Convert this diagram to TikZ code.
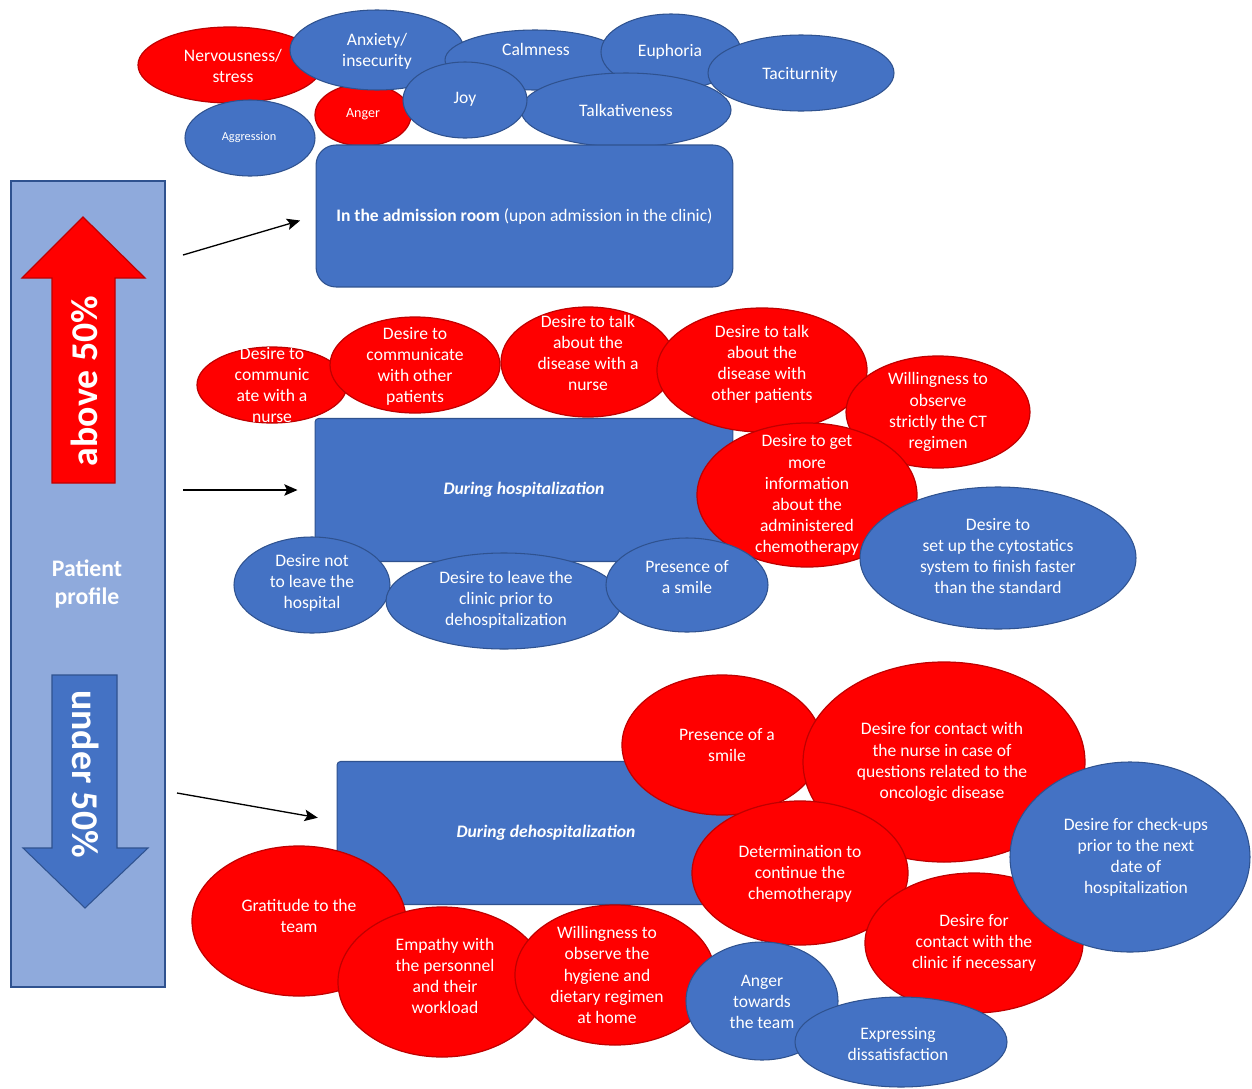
\documentclass[tikz,border=0pt]{standalone}
\usepackage{fontspec}
\setmainfont{Carlito}
\usetikzlibrary{arrows.meta,calc}
\definecolor{bblue}{HTML}{4472C4}
\definecolor{bedge}{HTML}{2F528F}
\definecolor{panel}{HTML}{8FAADC}
\definecolor{redge}{HTML}{C00000}

\begin{document}
\begin{tikzpicture}[x=0.02cm,y=-0.02cm,>={Stealth[length=7.5pt,width=6.5pt,inset=1.5pt]},
 font=\fontsize{10}{12}\selectfont,
 rb/.style={fill=red,draw=redge,line width=0.7pt},
 bb/.style={fill=bblue,draw=bedge,line width=0.6pt},
 txt/.style={text=white,align=center,inner sep=0pt},
 stage/.style={bb,minimum width=8.36cm,minimum height=2.86cm,text=white,align=center},
 big/.style={txt,font=\fontsize{21.5}{24}\selectfont\bfseries},
 arr/.style={->,line width=0.75pt}]
\fill[white] (0,0) rectangle (1252,1089);
\useasboundingbox (0,0) rectangle (1252,1089);

% profile column with the two arrows
\draw[fill=panel,draw=bedge,line width=0.6pt] (11,181) rectangle (165,987);
\draw[rb] (52,483) -- (52,278) -- (22,278) -- (83,217) -- (145,278) -- (115,278) -- (115,483) -- cycle;
\node[big,rotate=90] (up) at (84,381) {above 50\%};
\node[txt,font=\fontsize{13.5}{15.5}\selectfont\bfseries] (prof) at (87,584) {Patient\\profile};
\draw[bb] (52,675) -- (117,675) -- (117,848) -- (148,848) -- (85,908) -- (23,848) -- (52,848) -- cycle;
\node[big,rotate=-90] (down) at (86,774) {under 50\%};

% admission
\draw[rb] (230,65) ellipse (92 and 38);
\node[txt] (nerv) at (233,66) {Nervousness/\\stress};
\draw[rb] (363,115) ellipse (48 and 31);
\node[txt,font=\fontsize{8}{9}\selectfont] (anger) at (363,114) {Anger};
\draw[bb] (377,50) ellipse (87 and 40);
\node[txt] (anx) at (377,51) {Anxiety/\\insecurity};
\draw[bb] (250,138) ellipse (65 and 38);
\node[txt,font=\fontsize{7}{8}\selectfont] (aggr) at (249,137) {Aggression};
\draw[bb] (535,60) ellipse (90 and 30);
\node[txt] (calm) at (536,49) {Calmness};
\draw[bb] (671,52) ellipse (70 and 38);
\node[txt] (euph) at (670,52) {Euphoria};
\draw[bb] (801,73) ellipse (93 and 38);
\node[txt] (tacit) at (800,75) {Taciturnity};
\draw[bb] (626,110) ellipse (105 and 37);
\node[txt] (talk) at (626,110) {Talkativeness};
\draw[bb] (465,100) ellipse (62 and 38);
\node[txt] (joy) at (465,99) {Joy};
\node[stage,rounded corners=0.4cm,minimum width=8.34cm,minimum height=2.84cm] (adm) at (524.5,216)
 {\textbf{In the admission room} (upon admission in the clinic)};

% hospitalization
\node[stage,rounded corners=2pt] (hosp) at (524,490) {\textbf{\textit{During hospitalization}}};
\draw[rb] (272,385) ellipse (75 and 38);
\node[txt] (comnurse) at (272,385) {Desire to\\communic\\ate with a\\nurse};
\draw[rb] (415,365) ellipse (85 and 48);
\node[txt] (compat) at (415,366) {Desire to\\communicate\\with other\\patients};
\draw[rb] (588,362) ellipse (87 and 55);
\node[txt] (talknurse) at (588,353) {Desire to talk\\about the\\disease with a\\nurse};
\draw[rb] (762,370) ellipse (105 and 62);
\node[txt] (talkpat) at (762,364) {Desire to talk\\about the\\disease with\\other patients};
\draw[rb] (938,412) ellipse (92 and 56);
\node[txt] (regimen) at (938,412) {Willingness to\\observe\\strictly the CT\\regimen};
\draw[rb] (807,495) ellipse (110 and 72);
\node[txt] (moreinfo) at (807,495) {Desire to get\\more\\information\\about the\\administered\\chemotherapy};
\draw[bb] (312,585) ellipse (78 and 48);
\node[txt] (stay) at (312,583) {Desire not\\to leave the\\hospital};
\draw[bb] (504,601) ellipse (118 and 48);
\node[txt] (leave) at (506,600) {Desire to leave the\\clinic prior to\\dehospitalization};
\draw[bb] (687,585) ellipse (81 and 47);
\node[txt] (smile) at (687,577) {Presence of\\a smile};
\draw[bb] (998,558) ellipse (138 and 71);
\node[txt] (faster) at (998,556) {Desire to\\set up the cytostatics\\system to finish faster\\than the standard};

% dehospitalization
\node[stage,rounded corners=2pt] (dehosp) at (546,833) {\textbf{\textit{During dehospitalization}}};
\draw[rb] (722,745) ellipse (100 and 70);
\node[txt] (smile2) at (727,745) {Presence of a\\smile};
\draw[rb] (944,762) ellipse (141 and 100);
\node[txt] (askq) at (942,762) {Desire for contact with\\the nurse in case of\\questions related to the\\oncologic disease};
\draw[rb] (800,873) ellipse (108 and 72);
\node[txt] (continue) at (800,874) {Determination to\\continue the\\chemotherapy};
\draw[rb] (974,943) ellipse (109 and 70);
\node[txt] (clinic) at (974,943) {Desire for\\contact with the\\clinic if necessary};
\draw[bb] (1130,857) ellipse (120 and 95);
\node[txt] (checkup) at (1136,857) {Desire for check-ups\\prior to the next\\date of\\hospitalization};
\draw[rb] (299,921) ellipse (107 and 75);
\node[txt] (thanks) at (299,916) {Gratitude to the\\team};
\draw[rb] (442,982) ellipse (104 and 75);
\node[txt] (empathy) at (445,976) {Empathy with\\the personnel\\and their\\workload};
\draw[rb] (615,975) ellipse (100 and 70);
\node[txt] (hygiene) at (607,975) {Willingness to\\observe the\\hygiene and\\dietary regimen\\at home};
\draw[bb] (762,1001) ellipse (76 and 59);
\node[txt] (angerteam) at (762,1002) {Anger\\towards\\the team};
\draw[bb] (901,1042) ellipse (106 and 45);
\node[txt] (dissat) at (898,1044) {Expressing\\dissatisfaction};

% pointers from the profile column
\coordinate (s1) at (183,255);
\coordinate (s2) at (183,490);
\coordinate (s3) at (177,793);
\draw[arr,shorten >=0.32cm] (s1) -- (adm.west);
\draw[arr,shorten >=0.34cm] (s2) -- (hosp.west);
\draw[arr,shorten >=0.38cm] (s3) -- ($(dehosp.west)+(0,-12)$);
\end{tikzpicture}
\end{document}
